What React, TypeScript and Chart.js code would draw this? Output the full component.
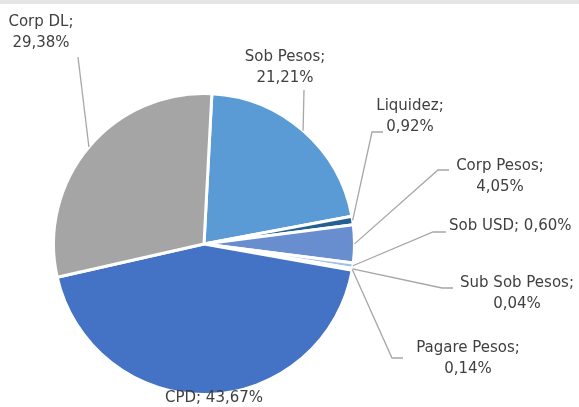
import React, { useEffect, useRef } from "react";
import { Chart, registerables } from "chart.js";

Chart.register(...registerables);

const categories = ["Sob Pesos", "Liquidez", "Corp Pesos", "Sob USD", "Sub Sob Pesos", "Pagare Pesos", "CPD", "Corp DL"];
const values = [21.21, 0.92, 4.05, 0.6, 0.04, 0.14, 43.67, 29.38];
const colors = ["#5B9BD5", "#255E91", "#698ED0", "#9DC3E6", "#7CAFDD", "#2F5597", "#4472C4", "#A5A5A5"];

// label layout (text centre, line split, leader path end points)
type LabelLayout = { cx: number; cy: number; twoLines: boolean; align?: CanvasTextAlign; leader: number[][] };
const labelLayout: LabelLayout[] = [
  { cx: 285, cy: 57, twoLines: true, leader: [[304, 90]] },
  { cx: 410, cy: 106, twoLines: true, leader: [[372, 132], [383, 132]] },
  { cx: 500, cy: 166, twoLines: true, leader: [[438, 170], [449, 170]] },
  { cx: 449, cy: 226, twoLines: false, align: "left", leader: [[433, 232], [446, 232]] },
  { cx: 517, cy: 283, twoLines: true, leader: [[442, 288], [453, 288]] },
  { cx: 468, cy: 348, twoLines: true, leader: [[392, 358], [403, 358]] },
  { cx: 214, cy: 398, twoLines: false, leader: [] },
  { cx: 41, cy: 22, twoLines: true, leader: [[78, 57]] },
];

const fmt = (v: number) => v.toFixed(2).replace(".", ",") + "%";

const labelPlugin = {
  id: "excelLabels",
  beforeDraw(chart: any) {
    const ctx = chart.ctx;
    ctx.save();
    ctx.fillStyle = "#E4E5E7";
    ctx.fillRect(0, 0, chart.width, 4);
    ctx.restore();
  },
  afterDraw(chart: any) {
    const ctx = chart.ctx;
    const meta = chart.getDatasetMeta(0);
    ctx.save();
    ctx.strokeStyle = "#A6A6A6";
    ctx.lineWidth = 1.3;
    meta.data.forEach((arc: any, i: number) => {
      const L = labelLayout[i];
      if (!L || L.leader.length === 0) return;
      const mid = (arc.startAngle + arc.endAngle) / 2;
      const px = arc.x + Math.cos(mid) * arc.outerRadius;
      const py = arc.y + Math.sin(mid) * arc.outerRadius;
      ctx.beginPath();
      ctx.moveTo(px, py);
      L.leader.forEach((p) => ctx.lineTo(p[0], p[1]));
      ctx.stroke();
    });
    ctx.fillStyle = "#404040";
    ctx.font = '15px "DejaVu Sans"';
    ctx.textBaseline = "middle";
    categories.forEach((c, i) => {
      const L = labelLayout[i];
      ctx.textAlign = L.align || "center";
      if (L.twoLines) {
        ctx.fillText(c + ";", L.cx, L.cy);
        ctx.fillText(fmt(values[i]), L.cx, L.cy + 21);
      } else {
        ctx.fillText(c + "; " + fmt(values[i]), L.cx, L.cy);
      }
    });
    ctx.restore();
  },
};

export default function App() {
  const ref = useRef<HTMLCanvasElement>(null);
  useEffect(() => {
    if (!ref.current) return;
    const chart = new Chart(ref.current, {
      type: "pie",
      data: {
        labels: categories,
        datasets: [
          {
            data: values,
            backgroundColor: colors,
            borderColor: "#FFFFFF",
            borderWidth: 3,
          },
        ],
      },
      options: {
        responsive: false,
        animation: false,
        rotation: 3,
        layout: { padding: { left: 52, right: 223, top: 92, bottom: 11 } },
        plugins: { legend: { display: false }, tooltip: { enabled: false } },
      },
      plugins: [labelPlugin],
    });
    return () => chart.destroy();
  }, []);
  return (
    <div style={{ position: "absolute", left: 0, top: 0, width: 579, height: 407, background: "#fff" }}>
      <canvas ref={ref} width={579} height={407} style={{ width: 579, height: 407 }} />
    </div>
  );
}
